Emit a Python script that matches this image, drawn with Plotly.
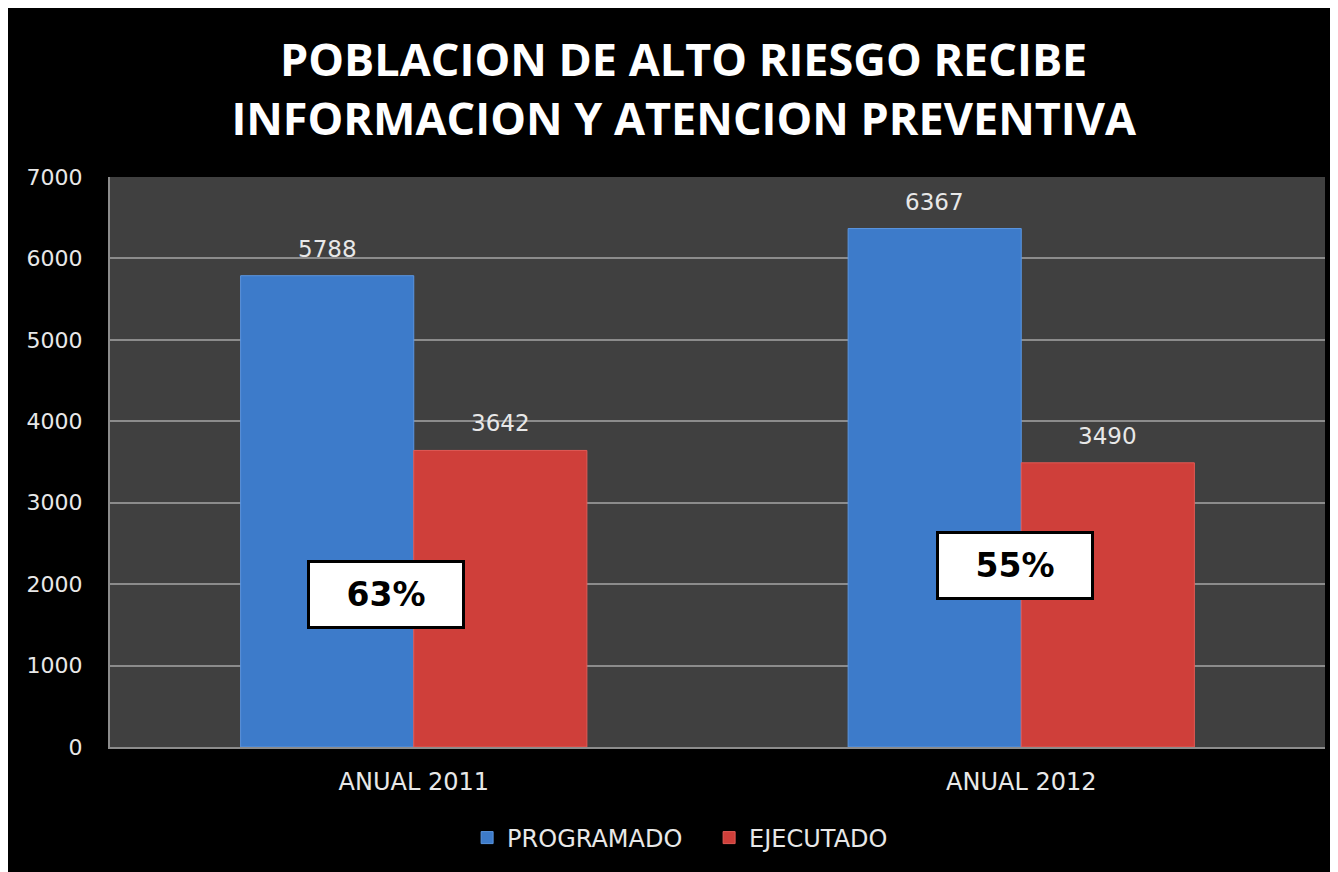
import plotly.graph_objects as go

categorias = ["ANUAL 2011", "ANUAL 2012"]
programado = [5788, 6367]
ejecutado = [3642, 3490]
porcentajes = ["63%", "55%"]

W, H = 1338, 872
ML, MR, MT, MB = 102, 21, 169, 133
BARGAP = 0.43
ancho = (1 - BARGAP) / 2  # ancho de cada barra en unidades de categoria

fig = go.Figure()
fig.add_trace(go.Bar(
    x=categorias, y=programado, name="PROGRAMADO",
    marker=dict(color="#3d7bca", line=dict(color="#5a95e0", width=1)),
))
fig.add_trace(go.Bar(
    x=categorias, y=ejecutado, name="EJECUTADO",
    marker=dict(color="#cf3f3a", line=dict(color="#e25a55", width=1)),
))

# etiquetas de valor encima de cada barra
for serie, desp in ((programado, -ancho / 2), (ejecutado, ancho / 2)):
    for i, v in enumerate(serie):
        fig.add_annotation(
            x=i + desp, y=v, xref="x", yref="y", text=str(v),
            showarrow=False, yanchor="bottom", yshift=12,
            font=dict(family="DejaVu Sans", size=23, color="#e8e8e8"),
        )

# cajas con el porcentaje de ejecucion
cajas = [(-0.045, 1879), (0.99, 2235)]
for (cx, cy), txt in zip(cajas, porcentajes):
    fig.add_annotation(
        x=cx, y=cy, xref="x", yref="y", text="<b>%s</b>" % txt,
        showarrow=False, bgcolor="white", bordercolor="black",
        borderwidth=3, borderpad=0, width=152, height=63,
        font=dict(family="DejaVu Sans", size=33, color="black"),
    )

fig.update_layout(
    width=W, height=H,
    margin=dict(l=ML, r=MR, t=MT, b=MB),
    paper_bgcolor="black",
    plot_bgcolor="#404040",
    barmode="group",
    bargap=BARGAP,
    bargroupgap=0.0,
    title=dict(
        text="<b>POBLACION DE ALTO RIESGO RECIBE<br>INFORMACION Y ATENCION PREVENTIVA</b>",
        x=0.505, xanchor="center", y=1 - 68 / H, yanchor="middle",
        yref="container",
        font=dict(family="Open Sans", size=45, color="white"),
    ),
    legend=dict(
        orientation="h", x=0.524, xanchor="center", y=1 - 830 / H,
        yanchor="middle", xref="container", yref="container",
        font=dict(family="DejaVu Sans", size=24, color="#e8e8e8"),
        itemwidth=30, entrywidth=197, entrywidthmode="pixels",
        bgcolor="rgba(0,0,0,0)",
    ),
    xaxis=dict(
        showgrid=False, showline=True, linecolor="#8c8c8c", linewidth=2,
        tickfont=dict(family="DejaVu Sans", size=24, color="#e8e8e8"),
        ticks="", ticklabelstandoff=12,
    ),
    yaxis=dict(
        range=[0, 7000], dtick=1000, showgrid=True,
        gridcolor="#8c8c8c", gridwidth=2, showline=True,
        linecolor="#8c8c8c", linewidth=2, zeroline=False,
        tickfont=dict(family="DejaVu Sans", size=22, color="#e8e8e8"),
        ticks="", ticklabelstandoff=21,
    ),
    showlegend=True,
)

fig.write_html("out.html")
